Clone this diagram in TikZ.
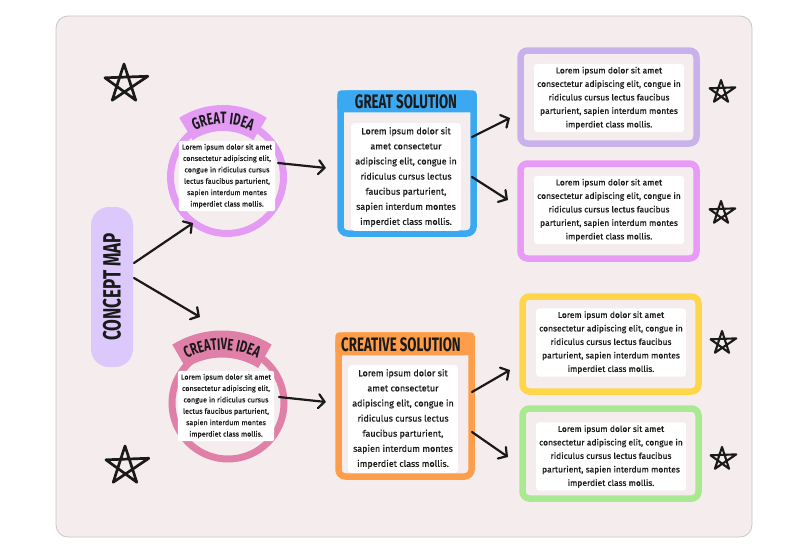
\documentclass[tikz,border=0pt]{standalone}
\usepackage{fontspec}
\setmainfont{Fira Sans}[FakeBold=0.6]
\newfontfamily\bodyf{Fira Sans}[FakeBold=0.6]
\newfontfamily\hdr{Fira Sans}[FakeStretch=0.68]
\usetikzlibrary{arrows.meta,decorations.text,calc}
\definecolor{bgc}{HTML}{F5EDED}
\definecolor{pillc}{HTML}{DCC8FB}
\definecolor{gic}{HTML}{E39BF3}
\definecolor{cic}{HTML}{E07FA8}
\definecolor{bluec}{HTML}{3BA9F2}
\definecolor{orc}{HTML}{FF9E4A}
\definecolor{b1c}{HTML}{C9B2EC}
\definecolor{b2c}{HTML}{E79BF6}
\definecolor{b3c}{HTML}{FFD54A}
\definecolor{b4c}{HTML}{A9E991}
\definecolor{ink}{HTML}{1A1A1A}
\newcommand\hdrA{\hdr\bfseries\fontsize{16.5}{16.5}\selectfont}
\newcommand\hdrB{\hdr\bfseries\fontsize{19.5}{19.5}\selectfont}
\newcommand\hdrC{\hdr\bfseries\fontsize{25}{25}\selectfont}
\tikzset{
 ring/.style={circle, line width=7pt, fill=bgc},
 rbox/.style={rectangle, line width=6.5pt, rounded corners=7pt, fill=bgc},
 idtxt/.style={fill=white, text=ink, align=center, font=\bodyf\fontsize{7.2}{11.4}\selectfont, inner sep=3pt, rounded corners=2pt},
 soltxt/.style={fill=white, text=ink, align=center, font=\bodyf\fontsize{9}{15.1}\selectfont, inner sep=4pt, rounded corners=3pt},
 boxtxt/.style={fill=white, text=ink, align=center, font=\bodyf\fontsize{8.5}{13.5}\selectfont, inner sep=3pt, rounded corners=3pt},
 conn/.style={draw=ink, line width=2.2pt, line cap=round, -{Straight Barb[length=6pt,width=14pt,line cap=round]}},
 starlw/.initial=2.2pt,
 hstar/.pic={
   \draw[ink, line width=\pgfkeysvalueof{/tikz/starlw}, line join=round, line cap=round]
     (234:10pt) -- (90:10pt) -- (306:10pt) -- (162:10pt) -- (18:12.5pt) -- (234:10pt);
 },
}
\begin{document}
\begin{tikzpicture}[x=1pt,y=1pt]
\useasboundingbox (0,0) rectangle (800,-554);
\fill[white] (0,0) rectangle (800,-554);
\draw[fill=bgc, draw=black!22, line width=0.8pt, rounded corners=12pt] (56,-16) rectangle (752,-537);

% concept map pill
\node[fill=pillc, rounded corners=18pt, minimum width=42pt, minimum height=160pt] (pill) at (112,-287) {};
\node[rotate=90, text=ink, font=\hdrC] (pilltxt) at (pill.center) {CONCEPT MAP};

% great idea
\node[ring, draw=gic, minimum size=113pt] (gi) at (227,-177) {};
\draw[gic, line width=26pt] (223,-186) ++(123:68) arc[start angle=123, end angle=57, radius=68];
\path[decorate, decoration={text along path, text={|\hdrA|GREAT IDEA}, text align=center, text color=ink}]
  (223,-186) ++(125:62) arc[start angle=125, end angle=55, radius=62];
\node[idtxt] (gitxt) at (227,-176) {Lorem ipsum dolor sit amet\\consectetur adipiscing elit,\\congue in ridiculus cursus\\lectus faucibus parturient,\\sapien interdum montes\\imperdiet class mollis.};

% creative idea
\node[ring, draw=cic, minimum size=112pt] (ci) at (228,-403) {};
\draw[cic, line width=27pt] (222,-425) ++(122:81) arc[start angle=122, end angle=58, radius=81];
\path[decorate, decoration={text along path, text={|\hdrA|CREATIVE IDEA}, text align=center, text color=ink}]
  (222,-425) ++(124:75) arc[start angle=124, end angle=56, radius=75];
\node[idtxt] (citxt) at (226,-406) {Lorem ipsum dolor sit amet\\consectetur adipiscing elit,\\congue in ridiculus cursus\\lectus faucibus parturient,\\sapien interdum montes\\imperdiet class mollis.};

% great solution
\node[rbox, draw=bluec, minimum width=133pt, minimum height=140pt] (gs) at (407,-163.5) {};
\fill[bluec, rounded corners=4pt] (gs.north west) rectangle ($(gs.north east)+(0,-22)$);
\node[text=ink, font=\hdrB] (gshdr) at (406,-102) {GREAT SOLUTION};
\node[soltxt] (gstxt) at (406,-177) {Lorem ipsum dolor sit\\amet consectetur\\adipiscing elit, congue in\\ridiculus cursus lectus\\faucibus parturient,\\sapien interdum montes\\imperdiet class mollis.};

% creative solution
\node[rbox, draw=orc, minimum width=133pt, minimum height=141pt] (cs) at (405,-406) {};
\fill[orc, rounded corners=4pt] (cs.north west) rectangle ($(cs.north east)+(0,-23)$);
\node[text=ink, font=\hdrB] (cshdr) at (401,-345) {CREATIVE SOLUTION};
\node[soltxt] (cstxt) at (403,-419) {Lorem ipsum dolor sit\\amet consectetur\\adipiscing elit, congue in\\ridiculus cursus lectus\\faucibus parturient,\\sapien interdum montes\\imperdiet class mollis.};

% right boxes
\node[rbox, draw=b1c, minimum width=176pt, minimum height=93pt] (b1) at (608.5,-97) {};
\node[boxtxt] (b1t) at (609,-98) {Lorem ipsum dolor sit amet\\consectetur adipiscing elit, congue in\\ridiculus cursus lectus faucibus\\parturient, sapien interdum montes\\imperdiet class mollis.};
\node[rbox, draw=b2c, minimum width=176pt, minimum height=95pt] (b2) at (608.5,-211) {};
\node[boxtxt] (b2t) at (609,-210) {Lorem ipsum dolor sit amet\\consectetur adipiscing elit, congue in\\ridiculus cursus lectus faucibus\\parturient, sapien interdum montes\\imperdiet class mollis.};
\node[rbox, draw=b3c, minimum width=176pt, minimum height=95pt] (b3) at (610.5,-344) {};
\node[boxtxt] (b3t) at (611,-342.5) {Lorem ipsum dolor sit amet\\consectetur adipiscing elit, congue in\\ridiculus cursus lectus faucibus\\parturient, sapien interdum montes\\imperdiet class mollis.};
\node[rbox, draw=b4c, minimum width=176pt, minimum height=90pt] (b4) at (610.5,-453.5) {};
\node[boxtxt] (b4t) at (611,-456.5) {Lorem ipsum dolor sit amet\\consectetur adipiscing elit, congue in\\ridiculus cursus lectus faucibus\\parturient, sapien interdum montes\\imperdiet class mollis.};

% connector ends
\coordinate (a1s) at (134,-263); \coordinate (a1t) at (193,-223);
\coordinate (a2s) at (134,-278); \coordinate (a2t) at (200,-317);
\coordinate (a3s) at (278,-163); \coordinate (a3t) at (326,-168);
\coordinate (a4s) at (279,-397); \coordinate (a4t) at (326,-402);
\coordinate (a5s) at (472,-137); \coordinate (a5t) at (510,-118);
\coordinate (a6s) at (472,-177); \coordinate (a6t) at (508,-200);
\coordinate (a7s) at (472,-392); \coordinate (a7t) at (510,-370);
\coordinate (a8s) at (472,-432); \coordinate (a8t) at (508,-457);
\draw[conn] (a1s) -- (a1t);
\draw[conn] (a2s) -- (a2t);
\draw[conn] (a3s) -- (a3t);
\draw[conn] (a4s) -- (a4t);
\draw[conn] (a5s) -- (a5t);
\draw[conn] (a6s) -- (a6t);
\draw[conn] (a7s) -- (a7t);
\draw[conn] (a8s) -- (a8t);

% stars
\pic[scale=2.0, starlw=2.7pt] at (124,-84) {hstar};
\pic[scale=2.0, starlw=2.7pt] at (125,-466) {hstar};
\pic[scale=1.2, starlw=2.1pt] at (721,-92) {hstar};
\pic[scale=1.2, starlw=2.1pt] at (721,-213) {hstar};
\pic[scale=1.2, starlw=2.1pt] at (722,-343) {hstar};
\pic[scale=1.2, starlw=2.1pt] at (722,-459) {hstar};
\end{tikzpicture}
\end{document}
